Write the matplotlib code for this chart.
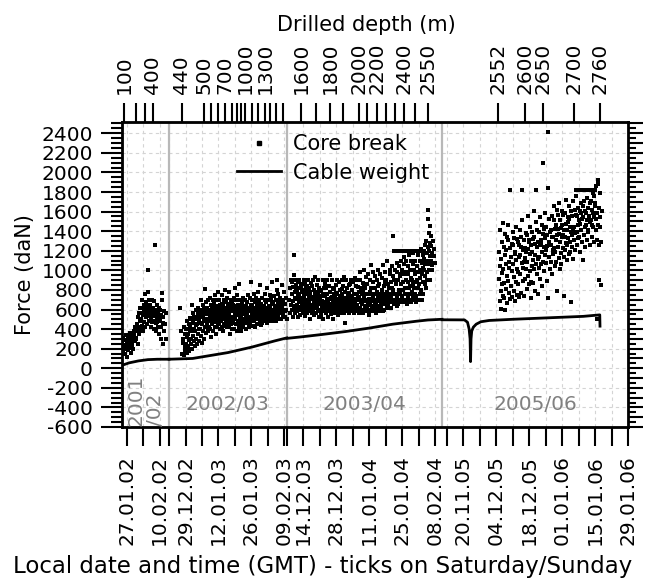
import numpy as np
import pandas as pd
import matplotlib
matplotlib.use("Agg")
import matplotlib.pyplot as plt
from matplotlib.lines import Line2D
from matplotlib.ticker import MultipleLocator

plt.rcParams['font.family'] = ['DejaVu Sans']
plt.rcParams['font.size'] = 14.5
FS = 14.5

# drilling seasons, put back to back on the time axis
season_names = ['2001\n/02', '2002/03', '2003/04', '2005/06']
season_start = ['2002-01-25', '2002-12-22', '2003-12-07', '2005-11-11']
season_end = ['2002-02-14', '2003-02-10', '2004-02-11', '2006-01-29']

# labelled Sundays on the bottom axis
date_labels = ['27.01.02', '10.02.02', '29.12.02', '12.01.03', '26.01.03', '09.02.03',
               '14.12.03', '28.12.03', '11.01.04', '25.01.04', '08.02.04',
               '20.11.05', '04.12.05', '18.12.05', '01.01.06', '15.01.06', '29.01.06']

# drilled depth (m) and when it was reached, top axis
depth_m = [100, 200, 300, 400,
           440, 500, 600, 650, 700, 800, 900, 950, 1000, 1100, 1200, 1300, 1350, 1400, 1500,
           1600, 1700, 1800, 1900, 2000, 2100, 2200, 2300, 2350, 2400, 2500, 2550,
           2552, 2600, 2650, 2700, 2760]
depth_date = ['2002-01-25 23:00', '2002-01-30 18:00', '2002-02-03 18:00', '2002-02-07 04:00',
              '2002-12-27 10:00', '2003-01-05 16:00', '2003-01-09 00:00', '2003-01-11 17:00',
              '2003-01-14 14:00', '2003-01-17 13:00', '2003-01-19 22:00', '2003-01-21 16:00',
              '2003-01-23 11:00', '2003-01-26 02:00', '2003-01-28 15:00', '2003-01-31 20:00',
              '2003-02-02 19:00', '2003-02-05 14:00', '2003-02-08 08:00',
              '2003-12-13 02:00', '2003-12-19 11:00', '2003-12-25 10:00', '2003-12-30 22:00',
              '2004-01-06 17:00', '2004-01-10 03:00', '2004-01-14 09:00', '2004-01-18 05:00',
              '2004-01-22 01:00', '2004-01-25 21:00', '2004-01-30 13:00', '2004-02-05 01:00',
              '2005-12-04 14:00', '2005-12-16 06:00', '2005-12-23 22:00', '2006-01-06 02:00',
              '2006-01-17 04:00']
depth_labelled = [100, 400, 440, 500, 700, 1000, 1300, 1600, 1800, 2000, 2200, 2400, 2550,
                  2552, 2600, 2650, 2700, 2760]

# cable weight (daN), days since season start
cable_day = [
    [0, 3, 7, 11, 15, 20],
    [0, 10, 15, 25, 35, 45, 50],
    [0, 6, 15, 25, 35, 45, 55, 60, 66],
    [0, 9.5, 10.8, 11.5, 11.9, 12.1, 12.3, 12.6, 13.3, 14.5, 16.5, 20, 30, 45, 60, 67, 67.1],
]
cable_force = [
    [30, 55, 75, 88, 92, 92],
    [92, 100, 120, 160, 215, 280, 310],
    [305, 320, 345, 375, 410, 450, 480, 493, 500],
    [495, 494, 470, 400, 300, 68, 300, 380, 420, 450, 475, 488, 500, 515, 530, 545, 430],
]

# core break force (daN): one list per day of the season, starting at first_day
s1_first_day = 0
s1_break = [
    [260, 180, 310, 220], [150, 290, 240, 340, 200], [280, 120, 230, 330, 190, 260],
    [310, 210, 360, 160, 270], [240, 330, 290, 200, 380], [350, 280, 420, 310],
    [300, 450, 380, 520, 250], [420, 560, 350, 480, 620, 390], [500, 620, 430, 700, 560, 380],
    [540, 470, 650, 580, 420, 760, 610], [600, 520, 680, 450, 560, 640, 780],
    [1000, 560, 620, 480, 700, 530, 590], [650, 500, 560, 420, 610, 700, 470],
    [560, 480, 620, 540, 400, 690, 580], [1260, 530, 460, 600, 380, 650, 500],
    [470, 560, 420, 620, 350, 520], [600, 480, 300, 540, 420, 700],
    [770, 520, 250, 460, 380, 580], [450, 300, 560],
]
s2_first_day = 4
s2_break = [
    [620], [380, 150, 260], [300, 140, 420, 220, 350, 180], [250, 400, 160, 320, 480, 210],
    [350, 230, 450, 290, 180, 510, 380], [420, 300, 500, 250, 380, 650, 200],
    [460, 330, 560, 280, 400, 520, 230], [500, 380, 300, 600, 440, 250, 520],
    [450, 560, 350, 620, 280, 480, 400, 530], [520, 400, 600, 330, 700, 460, 560, 260],
    [580, 450, 380, 650, 520, 300, 610, 480], [810, 500, 420, 600, 360, 550, 680, 470],
    [550, 450, 620, 380, 500, 700, 420, 580], [600, 480, 720, 400, 540, 650, 320, 500],
    [520, 620, 450, 580, 700, 380, 550, 480, 640], [600, 500, 680, 420, 560, 750, 470, 530, 350],
    [560, 640, 480, 700, 420, 600, 520, 780, 450], [620, 540, 460, 700, 580, 400, 650, 500, 560],
    [580, 480, 660, 540, 750, 420, 600, 510, 380], [640, 520, 700, 450, 580, 800, 500, 620, 430],
    [550, 680, 480, 600, 420, 720, 530, 640, 460], [600, 500, 660, 420, 560, 780, 470, 620, 350],
    [520, 640, 450, 700, 580, 400, 620, 500, 680], [580, 460, 650, 520, 720, 400, 600, 540, 820],
    [640, 500, 560, 700, 450, 620, 380, 580, 750], [600, 480, 700, 540, 650, 420, 580, 860, 500],
    [560, 620, 440, 700, 520, 600, 380, 660, 480], [500, 640, 580, 420, 720, 550, 460, 620],
    [620, 480, 560, 700, 520, 400, 640, 580], [540, 680, 460, 600, 750, 500, 420, 620],
    [600, 520, 720, 450, 580, 650, 480, 880], [560, 640, 500, 700, 430, 600, 520, 760],
    [620, 480, 580, 680, 540, 420, 720, 500], [540, 660, 500, 620, 450, 780, 580, 520],
    [600, 520, 700, 480, 640, 560, 850, 440], [580, 660, 500, 620, 720, 460, 540, 600],
    [520, 640, 580, 480, 700, 560, 760, 500], [600, 540, 680, 460, 620, 820, 520, 580],
    [560, 700, 500, 640, 580, 480, 750, 620], [620, 540, 720, 600, 480, 680, 560, 880],
    [580, 660, 520, 740, 600, 500, 640, 560], [640, 560, 700, 480, 620, 800, 540, 900],
    [600, 680, 520, 760, 580, 640, 500, 700], [560, 720, 620, 500, 680, 580, 850, 640],
    [620, 540, 700, 600, 780, 520, 660], [580, 660, 520, 720, 600, 500],
]
s3_first_day = 1
s3_break = [
    [700, 820, 560, 900, 650], [760, 600, 880, 520, 690, 830, 950],
    [1160, 640, 780, 900, 560, 720, 850, 610], [820, 580, 710, 790, 650, 760, 520, 880],
    [600, 750, 900, 680, 820, 540, 710, 630, 860], [720, 840, 600, 610, 660, 780, 560, 700],
    [650, 800, 900, 580, 740, 860, 620, 690, 530], [780, 600, 820, 700, 840, 560, 660, 760],
    [640, 900, 720, 580, 820, 680, 780, 500, 620], [760, 600, 870, 710, 560, 840, 650, 730],
    [580, 720, 900, 640, 800, 540, 680, 760, 620], [700, 930, 620, 780, 560, 850, 660, 730],
    [640, 760, 900, 580, 700, 820, 520, 680, 600], [720, 600, 790, 660, 800, 540, 740, 620],
    [580, 690, 900, 640, 760, 500, 680, 820, 600], [680, 600, 860, 740, 560, 820, 650, 710],
    [620, 760, 900, 580, 700, 520, 680, 840, 640], [710, 600, 950, 660, 780, 550, 720, 620],
    [580, 730, 900, 640, 820, 600, 680, 500, 760], [660, 690, 810, 560, 740, 620, 850, 770, 600],
    [710, 620, 900, 580, 760, 650, 540, 680], [640, 700, 880, 600, 800, 560, 740, 720, 660],
    [690, 580, 900, 660, 760, 810, 620, 840], [600, 720, 930, 640, 560, 780, 700, 680, 460],
    [680, 700, 900, 620, 820, 580, 650, 740], [640, 770, 850, 560, 760, 680, 600, 700, 860],
    [700, 620, 900, 660, 580, 800, 730, 740], [600, 690, 880, 640, 760, 560, 710, 680, 920],
    [680, 700, 900, 620, 840, 580, 650, 760], [640, 730, 830, 600, 780, 560, 700, 720, 980],
    [700, 620, 900, 680, 820, 580, 660, 760], [660, 700, 600, 780, 870, 560, 730, 840, 1000],
    [690, 640, 580, 820, 700, 760, 930, 620], [620, 700, 860, 580, 760, 650, 960, 660, 540],
    [710, 660, 900, 600, 780, 690, 820, 1050], [640, 700, 760, 580, 880, 720, 620, 980, 820],
    [700, 600, 820, 650, 940, 660, 760, 560], [680, 700, 780, 620, 900, 740, 1000, 580, 840],
    [720, 640, 860, 580, 760, 690, 960, 680], [620, 700, 800, 660, 920, 760, 1050, 740, 580],
    [700, 680, 840, 600, 760, 720, 980, 880], [660, 700, 900, 620, 780, 730, 1100, 740, 860],
    [700, 640, 820, 760, 690, 960, 680, 1000], [680, 720, 880, 620, 760, 700, 1040, 820, 940],
    [1350, 700, 800, 660, 900, 700, 1200, 760, 1000], [700, 680, 860, 760, 1200, 700, 980, 640, 1080],
    [720, 700, 900, 660, 1200, 800, 1040, 700, 960], [700, 760, 940, 680, 1200, 860, 1100, 720, 1000],
    [740, 700, 880, 1200, 800, 1060, 680, 960, 1140], [700, 820, 1200, 760, 980, 700, 1100, 900, 660],
    [760, 700, 1200, 880, 1040, 720, 960, 1160, 820], [700, 840, 1200, 1000, 760, 1100, 680, 920],
    [780, 700, 1200, 900, 1060, 740, 1180, 860, 1000], [700, 820, 1200, 960, 1100, 760, 880, 680],
    [740, 900, 1200, 1040, 700, 1160, 820, 980], [700, 860, 1200, 1000, 760, 1100, 920, 1220],
    [800, 1200, 960, 1080, 700, 1160, 880, 1020], [760, 1200, 1000, 1120, 860, 1260, 940, 1060],
    [820, 1100, 1300, 980, 1180, 900, 1240, 1060], [1620, 1520, 1000, 1200, 1380, 1100, 1280, 900, 1150],
    [1450, 1100, 1250, 1350, 1000, 1180, 1050], [1300, 1150, 1220, 1080],
]
s4_first_day = 24
s4_break = [
    [910, 1190, 690, 1410, 1040, 790], [610, 1120, 860, 1290, 970, 1480, 740],
    [1010, 720, 1240, 870, 1160, 590, 1370], [1210, 810, 1060, 670, 1340, 940, 1460],
    [890, 1310, 770, 1090, 1020, 1230, 710], [1820, 1140, 840, 1270, 990, 730, 1390],
    [1060, 1260, 790, 1330, 930, 1170, 690], [1190, 880, 1110, 1440, 750, 1320, 1010],
    [980, 1290, 860, 1140, 1260, 730, 1410], [1160, 960, 1340, 770, 1240, 1070, 1510],
    [1820, 1020, 1210, 890, 1310, 1090, 740], [1230, 910, 1130, 1380, 1010, 1190, 810],
    [1090, 1360, 940, 1220, 1560, 860, 1290], [1310, 990, 1170, 1440, 880, 1260, 720],
    [1190, 1040, 1390, 870, 1320, 1110, 1610], [1010, 1340, 1160, 790, 1270, 1490, 1060],
    [1820, 1240, 960, 1410, 1120, 1290, 760], [1140, 1390, 1020, 1260, 1540, 910, 1310],
    [1280, 1060, 1460, 1190, 840, 1370, 1090], [2100, 1240, 1420, 990, 1590, 1160, 1330],
    [1210, 1440, 1070, 1360, 890, 1250, 720], [2410, 1840, 1290, 1140, 1520, 1010, 1390],
    [1260, 1410, 1090, 1560, 960, 1340, 1210], [1340, 1170, 1510, 1230, 1660, 1040, 1420],
    [1190, 1460, 1310, 1090, 1620, 1360, 790], [1420, 1240, 1570, 1130, 1370, 1690, 1010],
    [1290, 1510, 1180, 1430, 1060, 1610, 1340], [1460, 1230, 1360, 1570, 1140, 1410, 740],
    [1340, 1590, 1210, 1470, 1280, 1720, 1110], [1410, 1260, 1540, 1330, 1490, 1170, 1660],
    [1520, 1290, 1440, 1190, 1610, 1390, 680], [1360, 1560, 1240, 1710, 1430, 1120, 1390],
    [1440, 1310, 1620, 1380, 1210, 1570, 1760], [1820, 1390, 1560, 1260, 1640, 1460, 1330],
    [1510, 1820, 1340, 1610, 1190, 1470, 1690], [1410, 1590, 1820, 1290, 1520, 1660, 1110],
    [1540, 1360, 1710, 1820, 1440, 1240, 1610], [1460, 1820, 1590, 1310, 1510, 1740, 1390],
    [1640, 1410, 1820, 1560, 1260, 1690, 1490], [1510, 1710, 1820, 1340, 1620, 1460, 1790],
    [1590, 1440, 1760, 1540, 1290, 1820, 1660], [1690, 1520, 1860, 1410, 1590, 1310, 500],
    [1920, 1880, 1460, 1640, 1260, 900, 1540], [1440, 1790, 850, 1290, 1610],
]

starts = pd.to_datetime(season_start)
ends = pd.to_datetime(season_end)
lengths = np.array((ends - starts) / pd.Timedelta(days=1))
offsets = np.concatenate([[0], np.cumsum(lengths)[:-1]])
total = lengths.sum()


def to_x(dates):
    dates = pd.to_datetime(pd.Series(dates))
    x = np.full(len(dates), np.nan)
    for s0, s1, off in zip(starts, ends, offsets):
        m = ((dates >= s0) & (dates <= s1)).values
        x[m] = off + ((dates[m] - s0) / pd.Timedelta(days=1)).values
    return x


def cloud(k, first_day, cols):
    # readings of one day are spread over that day
    xs, ys = [], []
    for d, vals in enumerate(cols):
        for i, v in enumerate(vals):
            xs.append(offsets[k] + first_day + d + (i + 0.5) / len(vals))
            ys.append(v)
    return xs, ys


fig = plt.figure(figsize=(6.45, 5.82), dpi=100)
ax = fig.add_axes([122 / 645, 155 / 582, 506 / 645, 305 / 582])

grid_col = '#d4d4d4'
for k, (first, cols) in enumerate([(s1_first_day, s1_break), (s2_first_day, s2_break),
                                   (s3_first_day, s3_break), (s4_first_day, s4_break)]):
    xs, ys = cloud(k, first, cols)
    ax.scatter(xs, ys, s=5.5, marker='s', color='black', linewidths=0, zorder=3)
    ax.plot(offsets[k] + np.array(cable_day[k]), cable_force[k], color='black', lw=2, zorder=4)

for b in offsets[1:]:
    ax.axvline(b, color='#b8b8b8', lw=1.6, zorder=2)

ax.set_xlim(0, total)
ax.set_ylim(-600, 2515)

# season names
for k, name in enumerate(season_names):
    mid = offsets[k] + lengths[k] / 2
    if k == 0:
        ax.text(mid, -585, name, rotation=90, ha='center', va='bottom', fontsize=FS,
                multialignment='left', color='#808080', linespacing=1.0, zorder=5)
    else:
        ax.text(mid, -375, name, ha='center', va='center', color='#808080',
                fontsize=FS, zorder=5)

# bottom axis: every Sunday of each season
sundays = []
for s0, s1 in zip(starts, ends):
    sundays += list(pd.date_range(s0, s1, freq='W-SUN'))
sun_x = to_x(sundays)
sun_lab = [d.strftime('%d.%m.%y') for d in sundays]
sun_lab = [t if t in date_labels else '' for t in sun_lab]
ax.set_xticks(sun_x)
ax.set_xticklabels(sun_lab, rotation=90, fontsize=FS)
ax.tick_params(axis='x', direction='out', length=14, width=1.5, pad=6, labelsize=FS)

ax.set_yticks(np.arange(-600, 2401, 200))
ax.set_yticklabels([str(v) for v in range(-600, 2401, 200)], fontsize=FS)
ax.yaxis.set_minor_locator(MultipleLocator(50))
ax.tick_params(axis='y', which='major', direction='out', length=15, width=1.5, pad=6,
               labelsize=FS)
ax.tick_params(axis='y', which='minor', direction='out', length=8, width=1.5)
ax.grid(True, which='major', color=grid_col, lw=0.8, ls=(0, (3, 3)), zorder=0)
for sp in ax.spines.values():
    sp.set_linewidth(2)

# right axis: ticks only
axr = ax.twinx()
axr.set_ylim(ax.get_ylim())
axr.set_yticks(np.arange(-600, 2501, 100))
axr.yaxis.set_minor_locator(MultipleLocator(50))
axr.set_yticklabels([])
axr.tick_params(axis='y', which='major', direction='out', length=11, width=1.5)
axr.tick_params(axis='y', which='minor', direction='out', length=6, width=1.5)

# top axis: drilled depth
axt = ax.twiny()
axt.set_xlim(ax.get_xlim())
axt.set_xticks(to_x(depth_date))
axt.set_xticklabels([str(d) if d in depth_labelled else '' for d in depth_m],
                    rotation=90, fontsize=FS)
axt.tick_params(axis='x', direction='out', length=14, width=1.5, pad=6, labelsize=FS)

handles = [Line2D([], [], marker='s', ls='', color='black', markersize=2.4),
           Line2D([], [], color='black', lw=2)]
ax.legend(handles, ['Core break', 'Cable weight'], loc='upper left', fontsize=15,
          bbox_to_anchor=(0.227, 0.96), frameon=False, borderpad=0, borderaxespad=0,
          handlelength=2.1, handletextpad=0.6, labelspacing=0.4)

fig.text(25 / 645, 1 - 275 / 582, 'Force (daN)', rotation=90, ha='center', va='center',
         fontsize=15)
fig.text(366 / 645, 1 - 25 / 582, 'Drilled depth (m)', ha='center', va='center', fontsize=15)
fig.text(0.5, 1 - 567 / 582, 'Local date and time (GMT) - ticks on Saturday/Sunday',
         ha='center', va='center', fontsize=16.5)

fig.savefig('out.png', dpi=100)
